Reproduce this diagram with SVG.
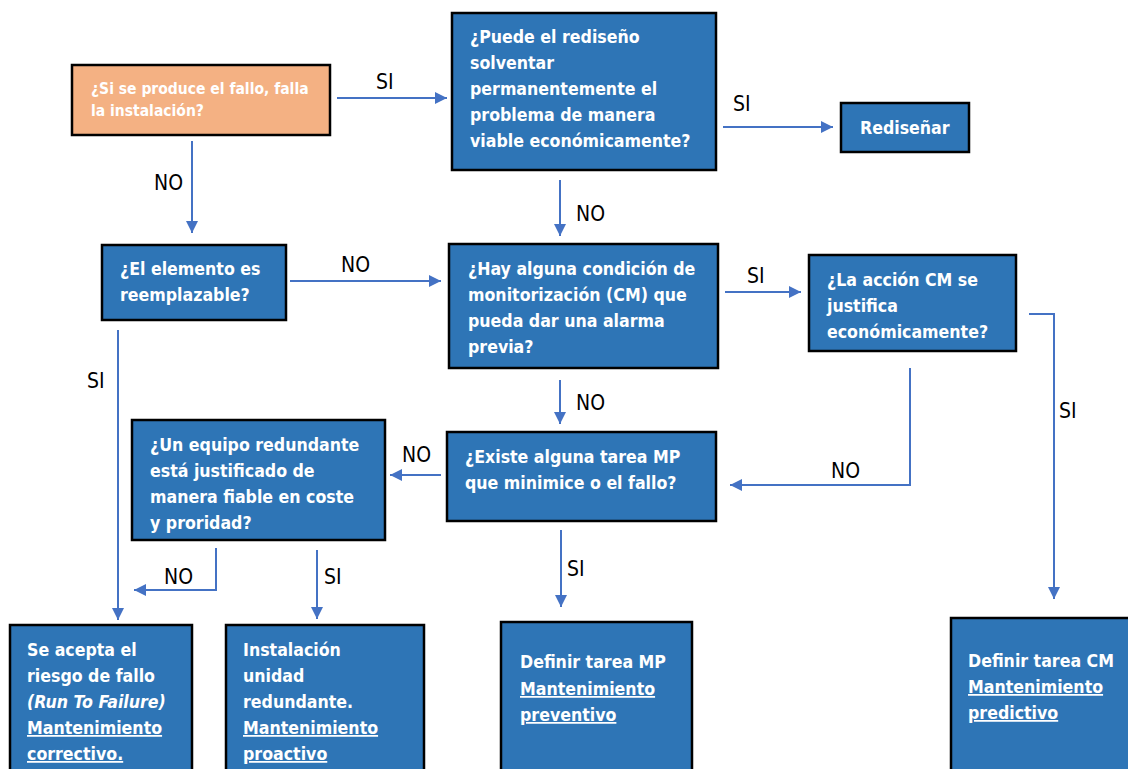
<svg xmlns="http://www.w3.org/2000/svg" width="1128" height="769" viewBox="0 0 1128 769">
<style>
.box{fill:#2E75B6;stroke:#000;stroke-width:2.5}
.orange{fill:#F4B183;stroke:#000;stroke-width:2.5}
.t{font-family:"DejaVu Sans Condensed","DejaVu Sans",sans-serif;font-stretch:condensed;font-weight:bold;font-size:17.6px;fill:#fff}
.s{font-size:15.5px}
.u{text-decoration:underline}
.i{font-style:italic}
.lbl{font-family:"DejaVu Sans Condensed","DejaVu Sans",sans-serif;font-stretch:condensed;font-size:21px;fill:#000}
.c{fill:none;stroke:#4472C4;stroke-width:2}
</style>
<defs>
<marker id="ah" viewBox="0 0 10 10" refX="10" refY="5" markerWidth="6" markerHeight="6" orient="auto" markerUnits="strokeWidth">
<path d="M0,0 L10,5 L0,10 z" fill="#4472C4"/>
</marker>
</defs>
<rect width="1128" height="769" fill="#fff"/>
<g id="connectors">
<path class="c" d="M337,98 L447,98" marker-end="url(#ah)"/>
<path class="c" d="M192,141 L192,233" marker-end="url(#ah)"/>
<path class="c" d="M723,127 L833,127" marker-end="url(#ah)"/>
<path class="c" d="M560,180 L560,236" marker-end="url(#ah)"/>
<path class="c" d="M290,281 L441,281" marker-end="url(#ah)"/>
<path class="c" d="M725,292 L801,292" marker-end="url(#ah)"/>
<path class="c" d="M1029,314 L1054,314 L1054,599" marker-end="url(#ah)"/>
<path class="c" d="M910,368 L910,485 L730,485" marker-end="url(#ah)"/>
<path class="c" d="M560,380 L560,424" marker-end="url(#ah)"/>
<path class="c" d="M441,475 L390,475" marker-end="url(#ah)"/>
<path class="c" d="M118,330 L118,620" marker-end="url(#ah)"/>
<path class="c" d="M216,548 L216,590 L134,590" marker-end="url(#ah)"/>
<path class="c" d="M317,550 L317,619" marker-end="url(#ah)"/>
<path class="c" d="M561,530 L561,607" marker-end="url(#ah)"/>
<text class="lbl" x="376" y="89">SI</text>
<text class="lbl" x="154" y="190">NO</text>
<text class="lbl" x="733" y="111">SI</text>
<text class="lbl" x="576" y="221">NO</text>
<text class="lbl" x="341" y="272">NO</text>
<text class="lbl" x="747" y="283">SI</text>
<text class="lbl" x="1059" y="418">SI</text>
<text class="lbl" x="831" y="478">NO</text>
<text class="lbl" x="576" y="410">NO</text>
<text class="lbl" x="402" y="462">NO</text>
<text class="lbl" x="87" y="388">SI</text>
<text class="lbl" x="164" y="584">NO</text>
<text class="lbl" x="324" y="584">SI</text>
<text class="lbl" x="567" y="576">SI</text>
</g>
<g id="n1"><rect class="orange" x="72" y="65" width="258" height="70"/>
<text class="t s" x="91" y="94">¿Si se produce el fallo, falla</text>
<text class="t s" x="91" y="116">la instalación?</text></g>
<g id="n2"><rect class="box" x="452" y="13" width="264" height="157"/>
<text class="t" x="470" y="43">¿Puede el rediseño</text>
<text class="t" x="470" y="69">solventar</text>
<text class="t" x="470" y="95">permanentemente el</text>
<text class="t" x="470" y="121">problema de manera</text>
<text class="t" x="470" y="147">viable económicamente?</text></g>
<g id="n3"><rect class="box" x="841" y="103" width="128" height="49"/>
<text class="t" x="860" y="134">Rediseñar</text></g>
<g id="n4"><rect class="box" x="102" y="245" width="184" height="75"/>
<text class="t" x="120" y="275">¿El elemento es</text>
<text class="t" x="120" y="301">reemplazable?</text></g>
<g id="n5"><rect class="box" x="449" y="244" width="269" height="124"/>
<text class="t" x="468" y="275">¿Hay alguna condición de</text>
<text class="t" x="468" y="301">monitorización (CM) que</text>
<text class="t" x="468" y="327">pueda dar una alarma</text>
<text class="t" x="468" y="353">previa?</text></g>
<g id="n6"><rect class="box" x="809" y="255" width="207" height="96"/>
<text class="t" x="827" y="286">¿La acción CM se</text>
<text class="t" x="827" y="312">justifica</text>
<text class="t" x="827" y="338">económicamente?</text></g>
<g id="n7"><rect class="box" x="447" y="432" width="269" height="89"/>
<text class="t" x="465" y="463">¿Existe alguna tarea MP</text>
<text class="t" x="465" y="489">que minimice o el fallo?</text></g>
<g id="n8"><rect class="box" x="132" y="420" width="253" height="120"/>
<text class="t" x="150" y="451">¿Un equipo redundante</text>
<text class="t" x="150" y="477">está justificado de</text>
<text class="t" x="150" y="503">manera fiable en coste</text>
<text class="t" x="150" y="529">y proridad?</text></g>
<g id="n9"><rect class="box" x="10" y="625" width="182" height="160"/>
<text class="t" x="27" y="656">Se acepta el</text>
<text class="t" x="27" y="682">riesgo de fallo</text>
<text class="t i" x="27" y="708">(Run To Failure)</text>
<text class="t u" x="27" y="734">Mantenimiento</text>
<text class="t u" x="27" y="760">correctivo.</text></g>
<g id="n10"><rect class="box" x="226" y="625" width="198" height="160"/>
<text class="t" x="243" y="656">Instalación</text>
<text class="t" x="243" y="682">unidad</text>
<text class="t" x="243" y="708">redundante.</text>
<text class="t u" x="243" y="734">Mantenimiento</text>
<text class="t u" x="243" y="760">proactivo</text></g>
<g id="n11"><rect class="box" x="501" y="622" width="191" height="160"/>
<text class="t" x="520" y="668">Definir tarea MP</text>
<text class="t u" x="520" y="695">Mantenimiento</text>
<text class="t u" x="520" y="721">preventivo</text></g>
<g id="n12"><rect class="box" x="951" y="618" width="190" height="160"/>
<text class="t" x="968" y="667">Definir tarea CM</text>
<text class="t u" x="968" y="693">Mantenimiento</text>
<text class="t u" x="968" y="719">predictivo</text></g>
</svg>
